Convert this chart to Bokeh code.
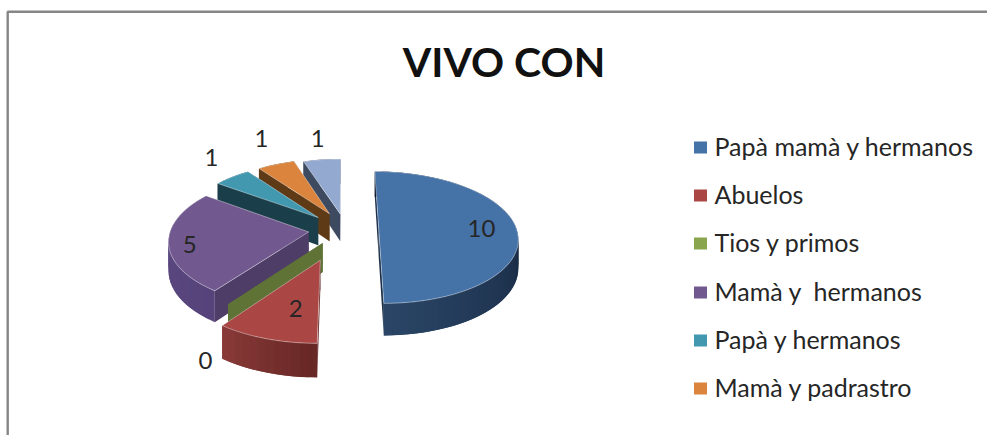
import math
from bokeh.plotting import figure
from bokeh.models import Range1d
from bokeh.core.properties import value
from bokeh.embed import file_html
from bokeh.resources import INLINE

# ---- data ----
TITLE = "VIVO CON"
legend_labels = ["Papà mamà y hermanos", "Abuelos", "Tios y primos",
                 "Mamà y\u00a0 hermanos", "Papà y hermanos", "Mamà y padrastro"]
values = [10, 2, 0, 5, 1, 1, 1]

# ---- styles ----
top_colors = ["#4572A7", "#AA4643", "#89A54E", "#71588F", "#4198AF", "#DB843D", "#93A9CF"]
rim_left = ["#2A4566", "#8A3A38", "#5F7336", "#5F4C85", "#1B3F4A", "#5E3A17", "#3D4A60"]
rim_right = ["#060E1E", "#652725", "#5F7336", "#55437A", "#1B3F4A", "#5E3A17", "#3D4A60"]
face_colors = ["#1C304A", "#652725", "#5F7336", "#4E3D66", "#1B3F4A", "#5E3A17", "#3D4A60"]
legend_colors = ["#4572A7", "#AA4643", "#89A54E", "#71588F", "#4198AF", "#DB843D"]
FONT = "Lato"
TEXT = "#262626"

# ---- layout (pixel space of the picture) ----
CX, CY, A, B, K, DEPTH = 341.0, 229.0, 138.0, 65.0, 0.12, 28.2
explode = [0.27, 0.47, 0.25, 0.24, 0.265, 0.28, 0.25]
apex_shift = [0, 0, 2, 0, 2, 5, 4]
paint_order = [6, 5, 4, 3, 2, 1, 0]
label_r = [0.744, 0.65, 1.3, 0.85, 1.2, 1.2, 1.2]
label_dx = [0, 9, 12, 0, -3, 0, 3]
label_dy = [-1, 0, 35, 4, -12, -17, -12]
legend_y = [147, 195, 243, 292, 340, 388]
LEGEND_TEXT_DY = -2

total = sum(values)


def project(u, v, shift=0.0, down=False):
    den = 1 + K * v
    x = CX + A * u / den + shift
    y = CY - B * v / den
    if down:
        y += DEPTH / den
    return x, y


def mix(c1, c2, t):
    a = [int(c1[i:i + 2], 16) for i in (1, 3, 5)]
    b = [int(c2[i:i + 2], 16) for i in (1, 3, 5)]
    return "#%02x%02x%02x" % tuple(round(p + (q - p) * t) for p, q in zip(a, b))


# Angles clockwise from the top
spans, acc = [], 0.0
for val in values:
    start = acc / total * 2 * math.pi
    acc += val
    spans.append((start, acc / total * 2 * math.pi))

px, py, fills = [], [], []
ox, oy = [], []


def add(points, color):
    px.append([q[0] for q in points])
    py.append([q[1] for q in points])
    fills.append(color)


for i in paint_order:
    t0, t1 = spans[i]
    mid = (t0 + t1) / 2
    au, av = explode[i] * math.sin(mid), explode[i] * math.cos(mid)
    s = apex_shift[i]
    steps = max(1, int(math.degrees(t1 - t0) / 3))
    thetas = [t0 + (t1 - t0) * j / steps for j in range(steps + 1)]
    rim = [(au + math.sin(t), av + math.cos(t)) for t in thetas]

    # radial faces
    for e in (rim[0], rim[-1]):
        add([project(au, av, s), project(*e, s), project(*e, s, True), project(au, av, s, True)],
            face_colors[i])
    # outer wall, shaded along the arc; each piece overlaps the next so no seams show
    for j in range(steps):
        k = min(j + 2, steps)
        add([project(*rim[j], s), project(*rim[k], s),
             project(*rim[k], s, True), project(*rim[j], s, True)],
            mix(rim_right[i], rim_left[i], (j + 0.5) / steps))
    # top face
    if t1 > t0:
        top = [project(au, av, s)] + [project(*q, s) for q in rim]
        add(top, top_colors[i])
        ox.append([q[0] for q in top] + [top[0][0]])
        oy.append([q[1] for q in top] + [top[0][1]])

p = figure(width=987, height=435, output_backend="svg", toolbar_location=None,
           x_range=Range1d(0, 987), y_range=Range1d(435, 0), min_border=0,
           outline_line_color=None, background_fill_color="white",
           border_fill_color="white")
p.axis.visible = False
p.grid.visible = False

# chart frame
p.line([7.2, 7.2, 987], [435, 11.2, 11.2], line_color="#868686", line_width=2.4)

p.patches(px, py, fill_color=fills, line_color=None)
p.multi_line(ox, oy, line_color="white", line_alpha=0.4, line_width=1)

# data labels
lx, ly, lt = [], [], []
for i, val in enumerate(values):
    t0, t1 = spans[i]
    mid = (t0 + t1) / 2
    u = (explode[i] + label_r[i]) * math.sin(mid)
    v = (explode[i] + label_r[i]) * math.cos(mid)
    x, y = project(u, v)
    lx.append(x + label_dx[i])
    ly.append(y + label_dy[i])
    lt.append(str(val))
p.text(lx, ly, text=lt, text_font=value(FONT), text_font_size="24px", text_color=TEXT,
       text_align="center", text_baseline="middle")

# title
p.text([503.5], [61], text=[TITLE], text_font=value(FONT), text_font_style="bold",
       text_font_size="41px", text_color="#111111", text_align="center", text_baseline="middle")

# legend
p.rect([700] * len(legend_y), legend_y, width=13, height=12, fill_color=legend_colors,
       line_color=None)
p.text([714] * len(legend_y), [y + LEGEND_TEXT_DY for y in legend_y], text=legend_labels,
       text_font=value(FONT), text_font_size="25px", text_color=TEXT, text_align="left",
       text_baseline="middle")

open("out.html", "w").write(file_html(p, INLINE))
